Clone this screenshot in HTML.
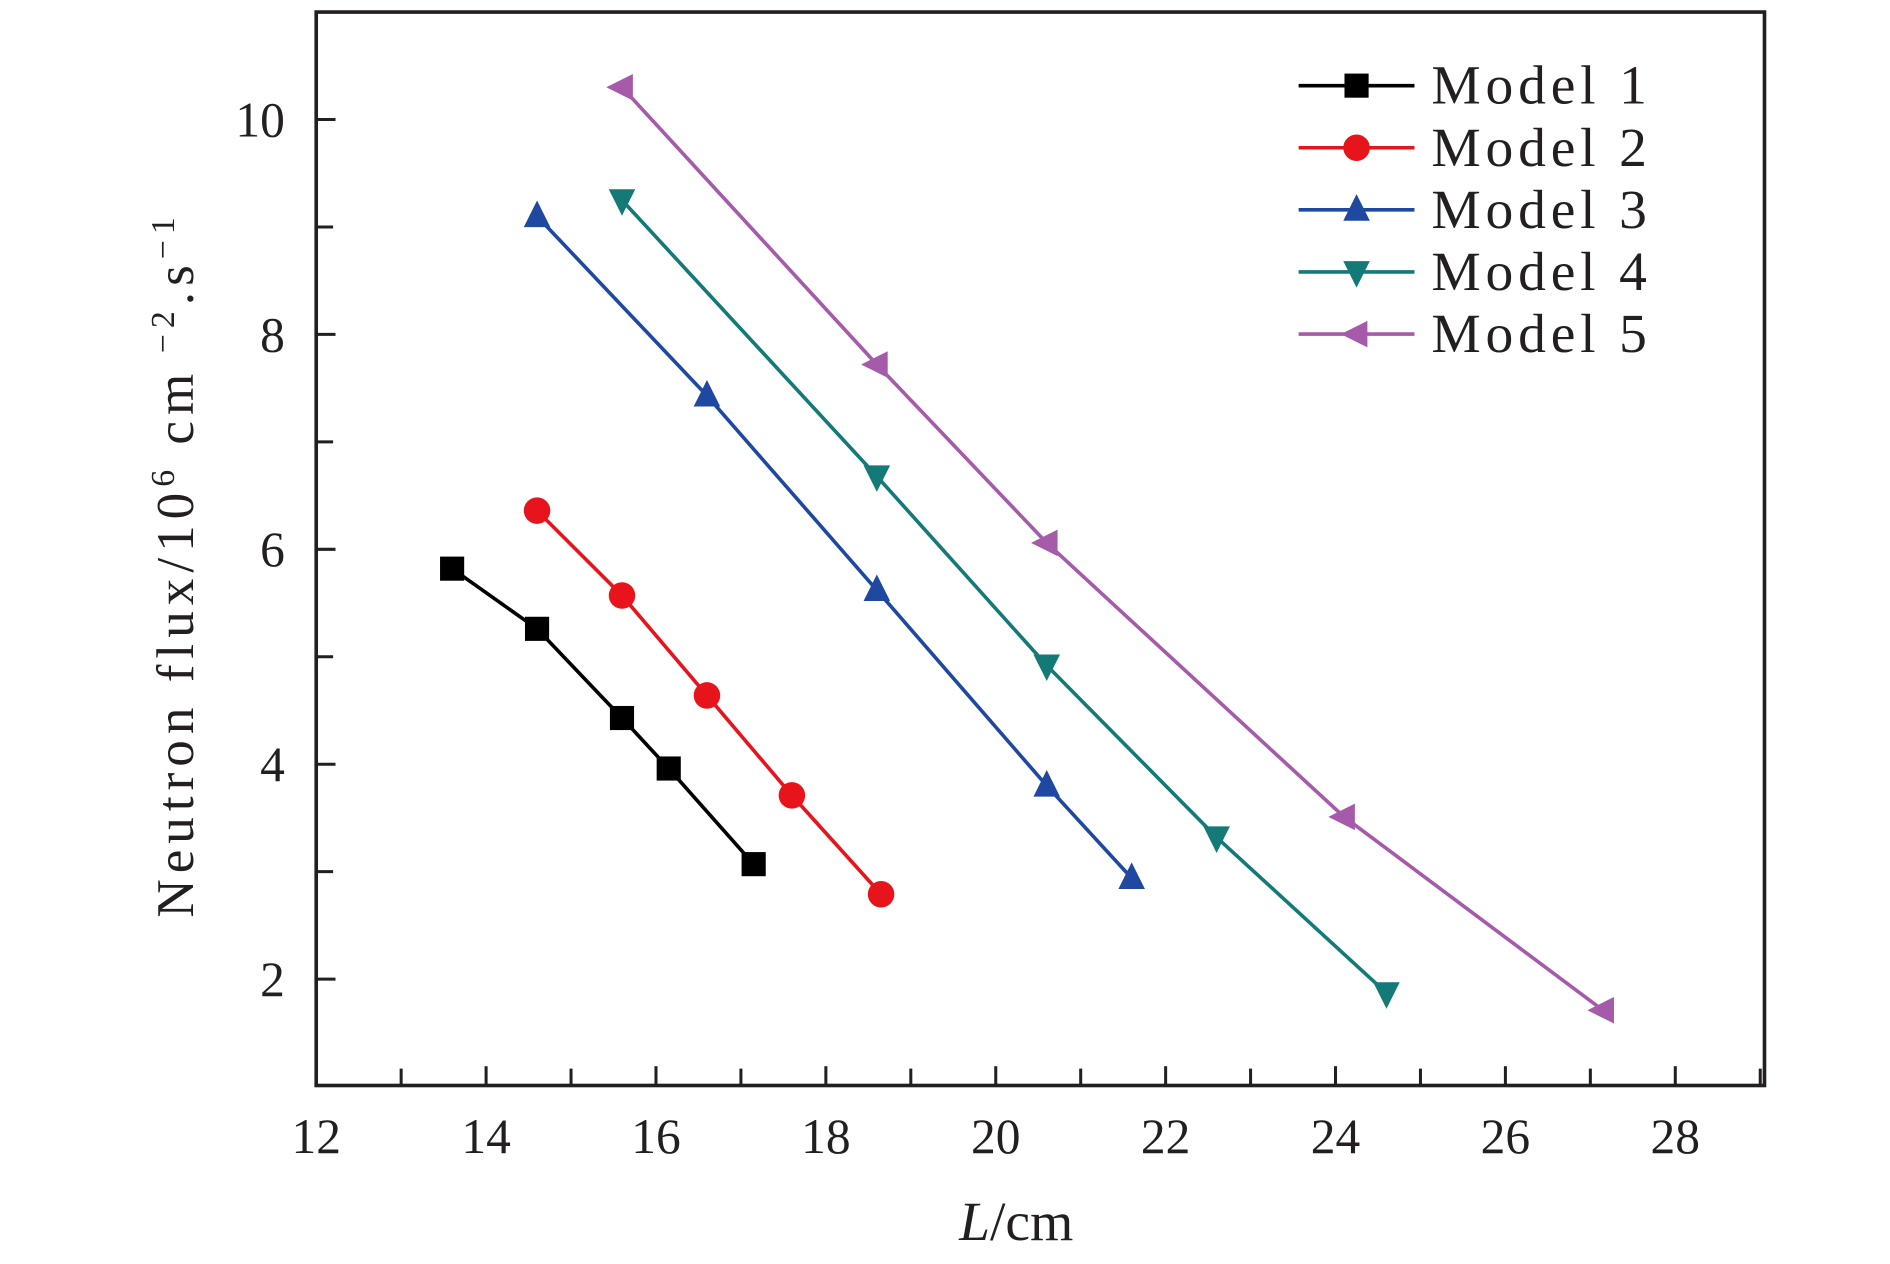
<!DOCTYPE html>
<html><head><meta charset="utf-8"><style>
html,body{margin:0;padding:0;background:#fff;}
svg{display:block;}
text{font-family:"Liberation Serif",serif;fill:#231f20;}
</style></head><body>
<svg id="chart" width="1890" height="1264" viewBox="0 0 1566 1048" preserveAspectRatio="none" xmlns="http://www.w3.org/2000/svg">
<g id="axes"></g><g id="series"></g><g id="legend"></g>
</svg>
<script>
const seriesNames=["Model 1","Model 2","Model 3","Model 4","Model 5"];
const seriesColors=["#000000","#e8141c","#1f48a0","#147a78","#a55aaa"];
const seriesMarkers=["square","circle","up","down","left"];
const m1x=[13.6,14.6,15.6,16.15,17.15];
const m1y=[5.82,5.26,4.43,3.96,3.07];
const m2x=[14.6,15.6,16.6,17.6,18.65];
const m2y=[6.36,5.57,4.64,3.71,2.79];
const m3x=[14.6,16.6,18.6,20.6,21.6];
const m3y=[9.1,7.43,5.62,3.8,2.94];
const m4x=[15.6,18.6,20.6,22.6,24.6];
const m4y=[9.25,6.68,4.92,3.32,1.87];
const m5x=[15.6,18.6,20.6,24.1,27.15];
const m5y=[10.3,7.72,6.06,3.51,1.71];
const xTicks=[12,14,16,18,20,22,24,26,28];
const yTicks=[2,4,6,8,10];
const NS="http://www.w3.org/2000/svg";
const L=262,R=1462,T=10,B=900,X0=12,X1=29.05,Y0=1.01,Y1=11;
const sx=v=>L+(v-X0)/(X1-X0)*(R-L);
const sy=v=>B-(v-Y0)/(Y1-Y0)*(B-T);
function mk(tag,attrs,parent){const e=document.createElementNS(NS,tag);for(const k in attrs)e.setAttribute(k,attrs[k]);parent.appendChild(e);return e;}
const ax=document.getElementById('axes');
let f=mk('rect',{x:L,y:T,width:R-L,height:B-T,fill:'none',stroke:'#231f20','stroke-width':3},ax);


for(let v=13;v<=29;v++){const big=v%2===0;const l=mk('line',{x1:sx(v),x2:sx(v),y1:B,y2:B-(big?16:14),stroke:'#231f20','stroke-width':2.5},ax);

}
for(let v=2;v<=10;v++){const l=mk('line',{x1:L,x2:L+(v%2===0?16:14),y1:sy(v),y2:sy(v),stroke:'#231f20','stroke-width':2.5},ax);

}
xTicks.forEach(v=>{const t=mk('text',{x:sx(v),y:956,'text-anchor':'middle','font-size':41},ax);t.textContent=v;

});
yTicks.forEach(v=>{const t=mk('text',{x:236,y:sy(v)+14,'text-anchor':'end','font-size':41},ax);t.textContent=v;

});
let xt=mk('text',{x:842,y:1028,'text-anchor':'middle','font-size':46},ax);
xt.innerHTML='<tspan font-style="italic">L</tspan>/cm';


let yt=mk('text',{x:0,y:0,'text-anchor':'middle','font-size':44,'letter-spacing':5,transform:'translate(160,468) rotate(-90)'},ax);
yt.innerHTML='Neutron  flux/10<tspan dy="-16" font-size="28">6</tspan><tspan dy="16"> cm</tspan><tspan dy="-16" font-size="28"> −2</tspan><tspan dy="16">.s</tspan><tspan dy="-16" font-size="28">−1</tspan>';


function marker(type,x,y,c,parent){const s=11;let e;
if(type==='square')e=mk('rect',{x:x-s+1,y:y-s+1,width:2*s-2,height:2*s-2,fill:c},parent);
else if(type==='circle')e=mk('circle',{cx:x,cy:y,r:s,fill:c},parent);
else if(type==='up')e=mk('polygon',{points:`${x},${y-s-2} ${x+s},${y+s-2} ${x-s},${y+s-2}`,fill:c},parent);
else if(type==='down')e=mk('polygon',{points:`${x},${y+s+2} ${x+s},${y-s+2} ${x-s},${y-s+2}`,fill:c},parent);
else e=mk('polygon',{points:`${x-s-2},${y} ${x+s-2},${y-s} ${x+s-2},${y+s}`,fill:c},parent);
return e;}
const xs=[m1x,m2x,m3x,m4x,m5x],ys=[m1y,m2y,m3y,m4y,m5y];
const sg=document.getElementById('series');
xs.forEach((xa,i)=>{const g=mk('g',{},sg);


const pl=mk('polyline',{points:xa.map((x,j)=>sx(x)+','+sy(ys[i][j])).join(' '),fill:'none',stroke:seriesColors[i],'stroke-width':3},g);


xa.forEach((x,j)=>{const m=marker(seriesMarkers[i],sx(x),sy(ys[i][j]),seriesColors[i],g);

});});
const lg=document.getElementById('legend');
seriesNames.forEach((n,i)=>{const y=71+i*51.5;const g=mk('g',{},lg);


mk('line',{x1:1076,x2:1172,y1:y,y2:y,stroke:seriesColors[i],'stroke-width':3},g);
marker(seriesMarkers[i],1124,y,seriesColors[i],g);
const t=mk('text',{x:1186,y:y+15,'font-size':46,'letter-spacing':4,'xml:space':'preserve'},g);t.textContent=n.replace(' ','  ');});
</script>
</body></html>
